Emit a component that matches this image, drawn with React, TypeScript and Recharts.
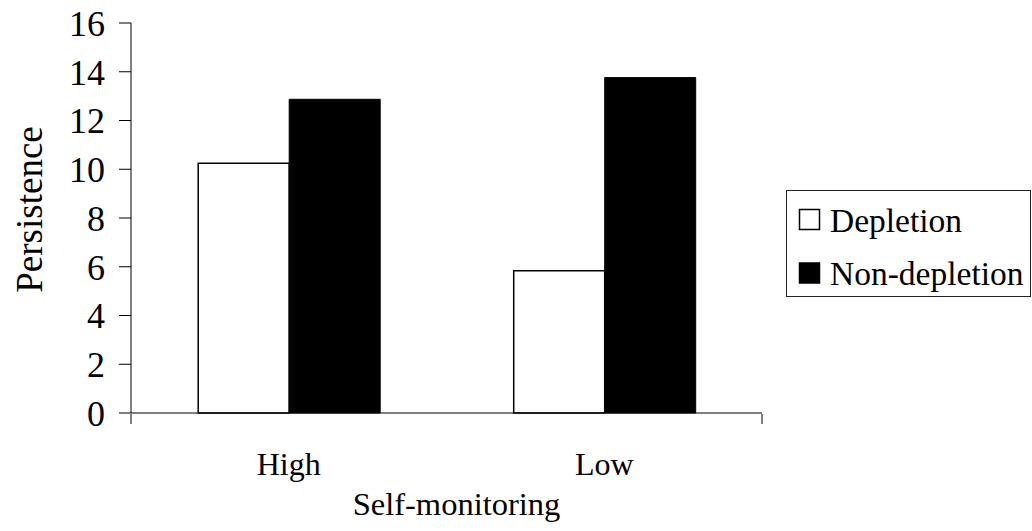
import { BarChart, Bar, XAxis, YAxis, Legend } from "recharts"

const categories = ["High", "Low"]
const depletion = [10.25, 5.84]
const nonDepletion = [12.87, 13.76]
const seriesNames = ["Depletion", "Non-depletion"]
const seriesFills = ["#ffffff", "#000000"]
const yTicks = [0, 2, 4, 6, 8, 10, 12, 14, 16]
const edgeTicks = [0, 1, 2]

const data = categories.map((c, i) => ({ cat: c, Depletion: depletion[i], "Non-depletion": nonDepletion[i] }))

const font = "'Liberation Serif', 'Times New Roman', serif"

function LegendBox() {
  return (
    <svg width={246} height={107} style={{ display: "block", fontFamily: font }}>
      <rect x={0.5} y={0.5} width={244} height={106} fill="#fff" stroke="#222" strokeWidth={1} />
      {seriesNames.map((name, i) => (
        <g key={name}>
          <rect x={13.5} y={19.5 + i * 53.5} width={20} height={20} fill={seriesFills[i]} stroke="#000" strokeWidth={1.5} />
          <text x={44} y={41.5 + i * 53.5} fontSize={33.5} fill="#000">{name}</text>
        </g>
      ))}
    </svg>
  )
}

export default function App() {
  return (
    <div style={{ position: "absolute", left: 0, top: 0, width: 1032, height: 531, background: "#fff" }}>
      <BarChart width={1032} height={531} data={data}
        margin={{ top: 23, right: 270, bottom: 116, left: 0 }}
        barCategoryGap="21.3%" barGap={0}>
        <XAxis dataKey="cat" height={1} tickLine={false} tickSize={0} tickMargin={39}
          axisLine={{ stroke: "#000", strokeWidth: 1 }}
          tick={{ fill: "#000", fontSize: 32, fontFamily: font }}
          label={{
            content: (props: any) => {
              const vb = props.viewBox
              return (
                <text x={vb.x + vb.width / 2 + 10} y={vb.y + 102} textAnchor="middle"
                  fontSize={32.5} fontFamily={font} fill="#000">Self-monitoring</text>
              )
            }
          }} />
        <XAxis xAxisId="edges" type="number" domain={[0, 2]} ticks={edgeTicks} allowDataOverflow
          height={1} axisLine={false} tickFormatter={() => ""} tickSize={10} interval={0}
          tick={{ fill: "none" }}
          tickLine={{ stroke: "#000", strokeWidth: 1 }} />
        <YAxis width={131} domain={[0, 16]} ticks={yTicks} interval={0} tickSize={12} tickMargin={14}
          axisLine={{ stroke: "#000", strokeWidth: 1 }}
          tickLine={{ stroke: "#000", strokeWidth: 1 }}
          tick={{ fill: "#000", fontSize: 36, fontFamily: font }}
          label={{
            content: (props: any) => {
              const vb = props.viewBox
              const cx = 42
              const cy = vb.y + vb.height / 2 - 8.5
              return (
                <text x={cx} y={cy} transform={`rotate(-90 ${cx} ${cy})`} textAnchor="middle"
                  fontSize={37} fontFamily={font} fill="#000">Persistence</text>
              )
            }
          }} />
        <Legend layout="vertical" align="center" verticalAlign="middle"
          wrapperStyle={{ left: 786, top: 190, width: 246, height: 107 }}
          content={() => <LegendBox />} />
        <Bar dataKey="Depletion" fill={seriesFills[0]} stroke="#000" strokeWidth={1.5} isAnimationActive={false} />
        <Bar dataKey="Non-depletion" fill={seriesFills[1]} stroke="#000" strokeWidth={1} isAnimationActive={false} />
      </BarChart>
    </div>
  )
}
